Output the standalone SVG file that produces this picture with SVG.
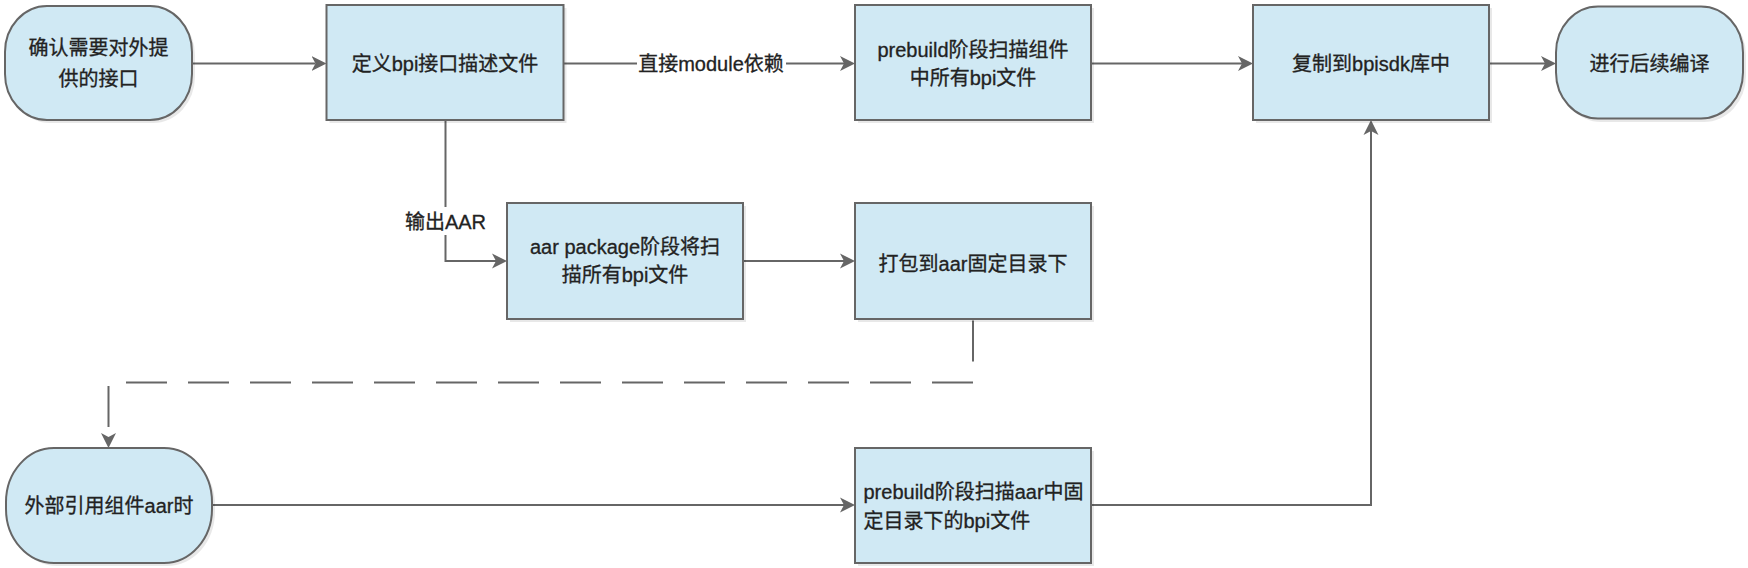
<svg xmlns="http://www.w3.org/2000/svg" width="1748" height="568" viewBox="0 0 1748 568">
<style>
.shadow{fill:#000;fill-opacity:0.09;stroke:none}
.box{fill:#d0e9f4;stroke:#666;stroke-width:2}
.t{font-family:"Liberation Sans","Noto Sans CJK SC",sans-serif;font-size:20px;fill:#222;stroke:#222;stroke-width:0.3;text-anchor:middle}
.tl{font-family:"Liberation Sans","Noto Sans CJK SC",sans-serif;font-size:20px;fill:#222;stroke:#222;stroke-width:0.3;text-anchor:start}
.e{fill:none;stroke:#666;stroke-width:2}
.dash{stroke-dasharray:41 21}
.lbg{fill:#fff;stroke:none}
</style>
<defs>
<marker id="arr" markerUnits="userSpaceOnUse" markerWidth="16" markerHeight="16" viewBox="0 0 16 16" refX="4" refY="8" orient="auto">
<path d="M0,0.5 L15,8 L0,15.5 L4,8 Z" fill="#666" stroke="none"/>
</marker>
</defs>
<rect width="1748" height="568" fill="#fff"/>

<g id="connectors">
<path class="e" d="M192,63.5 H315.5" marker-end="url(#arr)"/>
<path class="e" d="M563.5,63.5 H844" marker-end="url(#arr)"/>
<path class="e" d="M1091,63.5 H1242" marker-end="url(#arr)"/>
<path class="e" d="M1489,63.5 H1545" marker-end="url(#arr)"/>
<path class="e" d="M445.5,120 V261 H496" marker-end="url(#arr)"/>
<path class="e" d="M743,261 H844" marker-end="url(#arr)"/>
<path class="e dash" d="M973,320.5 V382.5 H108.5 V437" marker-end="url(#arr)"/>
<path class="e" d="M212,505 H844" marker-end="url(#arr)"/>
<path class="e" d="M1091,505 H1371 V131" marker-end="url(#arr)"/>
<g id="label-module">
<rect class="lbg" x="637" y="51" width="149" height="25"/>
<text class="t" x="711" y="70.5">直接module依赖</text>
</g>
<g id="label-aar">
<rect class="lbg" x="403" y="207" width="85" height="28"/>
<text class="t" x="445.5" y="229">输出AAR</text>
</g>
</g>

<g id="n1">
<rect class="shadow" x="8" y="9" width="187" height="114" rx="42" ry="46"/>
<rect class="box" x="5" y="6" width="187" height="114" rx="42" ry="46"/>
<text class="t" x="98.5" y="55">确认需要对外提</text>
<text class="t" x="98.5" y="86">供的接口</text>
</g>

<g id="n2">
<rect class="shadow" x="329.5" y="8" width="237" height="115"/>
<rect class="box" x="326.5" y="5" width="237" height="115"/>
<text class="t" x="445" y="70.5">定义bpi接口描述文件</text>
</g>

<g id="n3">
<rect class="shadow" x="858" y="8" width="236" height="115"/>
<rect class="box" x="855" y="5" width="236" height="115"/>
<text class="t" x="973" y="57">prebuild阶段扫描组件</text>
<text class="t" x="973" y="85">中所有bpi文件</text>
</g>

<g id="n4">
<rect class="shadow" x="1256" y="8" width="236" height="115"/>
<rect class="box" x="1253" y="5" width="236" height="115"/>
<text class="t" x="1371" y="70.5">复制到bpisdk库中</text>
</g>

<g id="n5">
<rect class="shadow" x="1559" y="9" width="187" height="113" rx="42" ry="46"/>
<rect class="box" x="1556" y="6.5" width="187" height="112" rx="42" ry="46"/>
<text class="t" x="1649.5" y="70.5">进行后续编译</text>
</g>

<g id="n6">
<rect class="shadow" x="510" y="206" width="236" height="116"/>
<rect class="box" x="507" y="203" width="236" height="116"/>
<text class="t" x="625" y="254">aar package阶段将扫</text>
<text class="t" x="625" y="282">描所有bpi文件</text>
</g>

<g id="n7">
<rect class="shadow" x="858" y="206" width="236" height="116"/>
<rect class="box" x="855" y="203" width="236" height="116"/>
<text class="t" x="973" y="270.5">打包到aar固定目录下</text>
</g>

<g id="n8">
<rect class="shadow" x="9" y="451" width="206" height="115" rx="48" ry="54"/>
<rect class="box" x="6" y="448" width="206" height="115" rx="48" ry="54"/>
<text class="t" x="109" y="512.5">外部引用组件aar时</text>
</g>

<g id="n9">
<rect class="shadow" x="858" y="451" width="236" height="115"/>
<rect class="box" x="855" y="448" width="236" height="115"/>
<text class="tl" x="863.5" y="499">prebuild阶段扫描aar中固</text>
<text class="tl" x="863.5" y="527.5">定目录下的bpi文件</text>
</g>
</svg>
